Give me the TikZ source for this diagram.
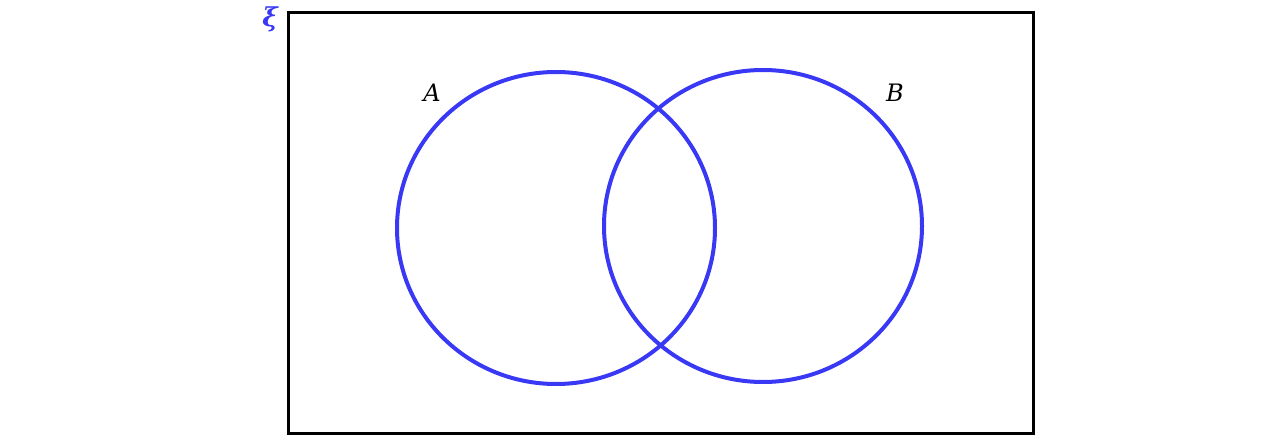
\documentclass[tikz,border=0pt]{standalone}
\usepackage{fontspec}
\setmainfont{DejaVu Serif}
\definecolor{vblue}{RGB}{56,56,245}
\begin{document}
\begin{tikzpicture}[x=1pt,y=-1pt,
  setcircle/.style={draw=vblue,line width=4pt},
  lbl/.style={font=\fontsize{24}{28}\selectfont\itshape,inner sep=0pt}]
\useasboundingbox (0,0) rectangle (1280,441);
\node[draw,line width=2.8pt,minimum width=745pt,minimum height=421pt,anchor=north west,inner sep=0pt] (U) at (287,11) {};
\draw[setcircle] (556,228) ellipse [x radius=159, y radius=156];
\draw[setcircle] (763,226) ellipse [x radius=159, y radius=156];
\node[lbl] (A) at (432,93) {A};
\node[lbl] (B) at (895,93) {B};
\node[inner sep=0pt,text=vblue,font=\fontsize{26}{30}\selectfont\bfseries\itshape] (xi) at (270,19) {ξ};
\end{tikzpicture}
\end{document}
